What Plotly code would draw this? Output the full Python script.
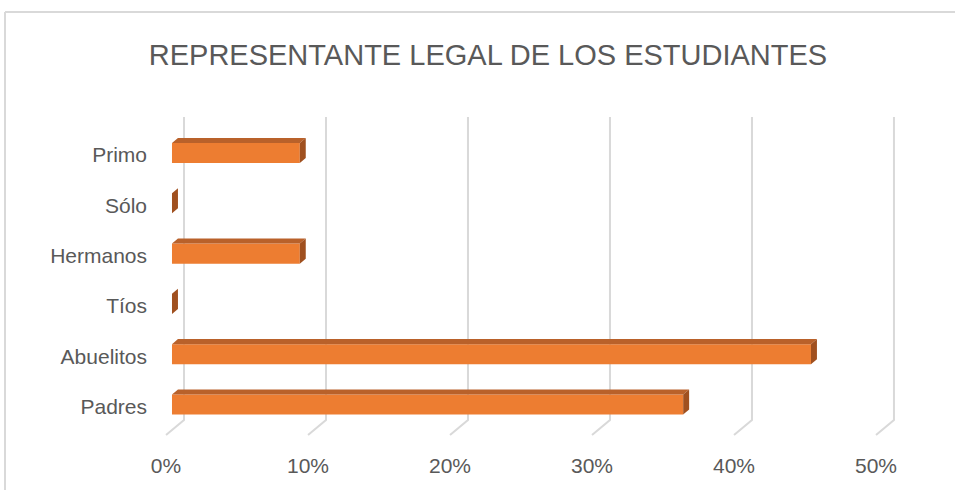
import plotly.graph_objects as go

# ---- data ----
categories = ["Padres", "Abuelitos", "Tíos", "Hermanos", "Sólo", "Primo"]
values = [36, 45, 0, 9, 0, 9]          # percent
tick_values = [0, 10, 20, 30, 40, 50]
tick_labels = ["0%", "10%", "20%", "30%", "40%", "50%"]
title_text = "REPRESENTANTE LEGAL DE LOS ESTUDIANTES"

# ---- style / 3D geometry (in axis units) ----
FRONT = "#ED7D31"
TOP = "#B9612A"
SIDE = "#A0501F"
GRID = "#D9D9D9"
TEXT = "#595959"
H = 0.40        # front face height
DX = 0.42       # depth offset in x
DY = 0.10       # depth offset in y
CEN_OFF = 0.04  # bar centre shift vs. label
BACK_DX = 0.845
FRONT_DX = -0.42
Y_FLOOR_FRONT = -0.567
Y_FLOOR_BACK = -0.268
Y_TOP = 5.755

W, HT = 955, 490
ML, MR, MT, MB = 152, 30, 110, 50
PW, PH = W - ML - MR, HT - MT - MB

fig = go.Figure()

# gridlines (back wall + floor), drawn first so bars cover them
for v in tick_values:
    fig.add_trace(go.Scatter(
        x=[v + FRONT_DX, v + BACK_DX, v + BACK_DX],
        y=[Y_FLOOR_FRONT, Y_FLOOR_BACK, Y_TOP],
        mode="lines", line=dict(color=GRID, width=2),
        hoverinfo="skip", showlegend=False))

ypos = list(range(len(categories)))

# 3D bars: front, top and side faces
for cat, p, v in zip(categories, ypos, values):
    yb = p + CEN_OFF - H / 2
    yt = yb + H
    if v > 0:
        fig.add_trace(go.Scatter(
            x=[0, v, v, 0, 0], y=[yb, yb, yt, yt, yb],
            fill="toself", fillcolor=FRONT, mode="lines",
            line=dict(width=0, color=FRONT), showlegend=False,
            hoveron="fills", name=f"{cat}: {v}%"))
        fig.add_trace(go.Scatter(
            x=[0, DX, v + DX, v, 0], y=[yt, yt + DY, yt + DY, yt, yt],
            fill="toself", fillcolor=TOP, mode="lines",
            line=dict(width=0, color=TOP), hoverinfo="skip", showlegend=False))
    fig.add_trace(go.Scatter(
        x=[v, v + DX, v + DX, v, v], y=[yb, yb + DY, yt + DY, yt, yb],
        fill="toself", fillcolor=SIDE, mode="lines",
        line=dict(width=0, color=SIDE), hoverinfo="skip", showlegend=False))


def px_x(p):
    return (p - ML) / PW


def px_y(p):
    return (HT - MB - p) / PH


fig.update_layout(
    width=W, height=HT,
    margin=dict(l=ML, r=MR, t=MT, b=MB),
    paper_bgcolor="white", plot_bgcolor="white",
    title=dict(text=title_text, x=488 / W, xanchor="center", y=1 - 55 / HT,
               yanchor="middle", font=dict(family="Liberation Sans", size=29, color=TEXT)),
    font=dict(family="Liberation Sans", color=TEXT),
    xaxis=dict(range=[-1.408, 53.03], showgrid=False, zeroline=False, showline=False,
               tickvals=[v + FRONT_DX for v in tick_values], ticktext=tick_labels,
               ticks="", ticklabelstandoff=11, tickfont=dict(size=21, color=TEXT)),
    yaxis=dict(range=[-0.666, 5.895], showgrid=False, zeroline=False, showline=False,
               tickvals=ypos, ticktext=categories, ticks="", ticklabelstandoff=4,
               tickfont=dict(size=21, color=TEXT)),
    shapes=[
        dict(type="line", xref="paper", yref="paper",
             x0=px_x(5), x1=px_x(5), y0=px_y(495), y1=px_y(12),
             line=dict(color="#D9D9D9", width=2)),
        dict(type="line", xref="paper", yref="paper",
             x0=px_x(5), x1=px_x(960), y0=px_y(12), y1=px_y(12),
             line=dict(color="#D9D9D9", width=2)),
    ],
)

fig.write_html("out.html", config={"displayModeBar": False},
               post_script="document.body.style.margin='0';")
